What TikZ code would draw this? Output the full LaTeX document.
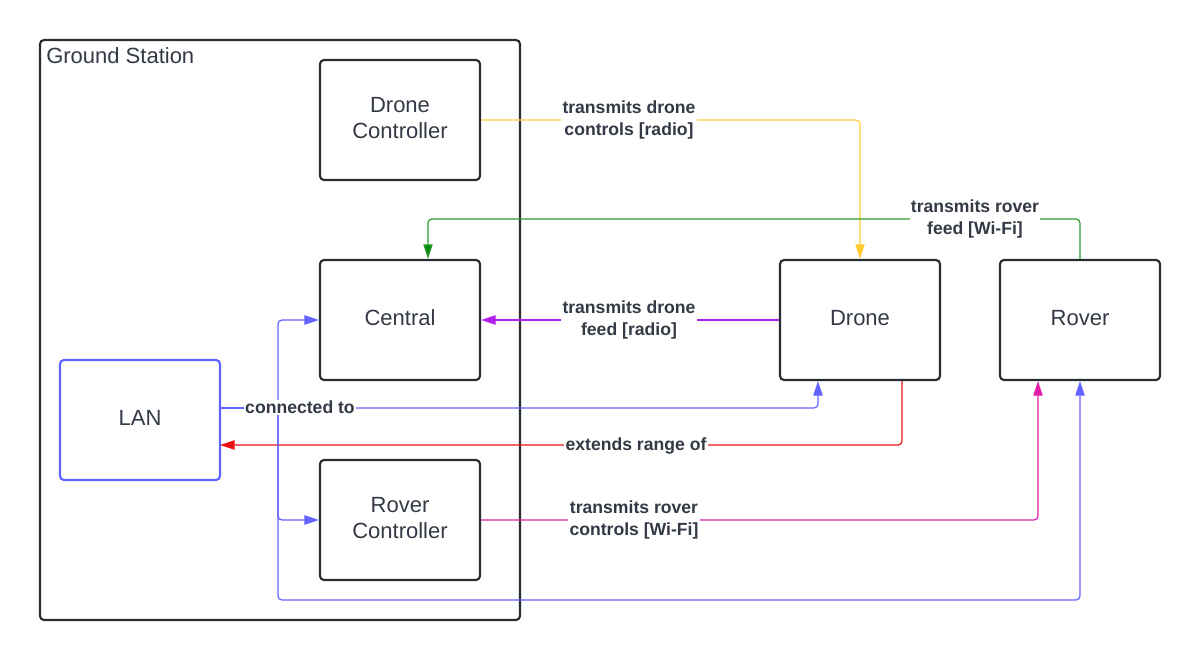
\documentclass[tikz,border=0pt]{standalone}
\usepackage{fontspec}
\setmainfont{Liberation Sans}
\usetikzlibrary{arrows.meta,calc}
\definecolor{boxline}{HTML}{282C33}
\definecolor{txt}{HTML}{333A45}
\definecolor{cyel}{HTML}{FFCC33}
\definecolor{cgrn}{HTML}{2E9A2E}
\definecolor{cgrnh}{HTML}{008A0E}
\definecolor{cpur}{HTML}{B01EE8}
\definecolor{cblu}{HTML}{6262FF}
\definecolor{cred}{HTML}{EE1111}
\definecolor{cmag}{HTML}{E01CA8}
\tikzset{
  box/.style={draw=boxline, line width=1.6pt, rounded corners=3pt, minimum width=120pt, minimum height=90pt, align=center, text=txt, text depth=3pt, font=\fontsize{16.5}{20}\selectfont},
  lanbox/.style={box, draw=cblu},
  conn/.style={line width=0.9pt, rounded corners=3pt, -{Triangle[length=11pt,width=7pt]}},
  lbl/.style={fill=white, inner sep=1pt, align=center, text=txt, font=\fontsize{13.2}{16.5}\selectfont\bfseries},
}
\begin{document}
\begin{tikzpicture}[x=0.75pt,y=-0.75pt]
\useasboundingbox (0,0) rectangle (1200,660);
% container
\node[draw=boxline, line width=1.6pt, rounded corners=3pt, minimum width=360pt, minimum height=435pt] (gs) at (280,330) {};
\node[anchor=north west, inner sep=0pt, text=txt, font=\fontsize{16.5}{20}\selectfont] (gslbl) at (46,47) {Ground Station};
% nodes
\node[box] (dc) at (400,120) {Drone\\Controller};
\node[box] (central) at (400,320) {Central};
\node[box] (rc) at (400,520) {Rover\\Controller};
\node[lanbox] (lan) at (140,420) {LAN};
\node[box] (drone) at (860,320) {Drone};
\node[box] (rover) at (1080,320) {Rover};
% helper coordinates
\coordinate (lanout) at (220,408);
\coordinate (split) at (278,408);
% connectors
\draw[conn, cyel] (dc.east) -- (860,120) -- (drone.north);
\draw[conn, cgrn, -{Triangle[length=11pt,width=7pt,fill=cgrnh]}] (rover.north) -- (1080,219) -- (428,219) -- ($(central.north)+(28,0)$);
\draw[conn, cpur] (drone.west) -- (central.east);
\draw[conn, cblu] (lanout) -- (818,408) -- ($(drone.south)+(-42,0)$);
\draw[conn, cred] ($(drone.south)+(42,0)$) -- (902,445) -- (220,445);
\draw[conn, cmag] (rc.east) -- (1038,520) -- ($(rover.south)+(-42,0)$);
\draw[conn, cblu] (lanout) -- (split) |- (central.west);
\draw[conn, cblu] (lanout) -- (split) |- (rc.west);
\draw[conn, cblu] (lanout) -- (split) -- (278,600) -| (rover.south);
% labels
\node[lbl] (l1) at (629,119.5) {transmits drone\\controls [radio]};
\node[lbl] (l2) at (975,218.5) {transmits rover\\feed [Wi-Fi]};
\node[lbl] (l3) at (629,319.5) {transmits drone\\feed [radio]};
\node[lbl] (l4) at (300,407.5) {connected to};
\node[lbl] (l5) at (636,445.5) {extends range of};
\node[lbl] (l6) at (634,520) {transmits rover\\controls [Wi-Fi]};
\end{tikzpicture}
\end{document}
